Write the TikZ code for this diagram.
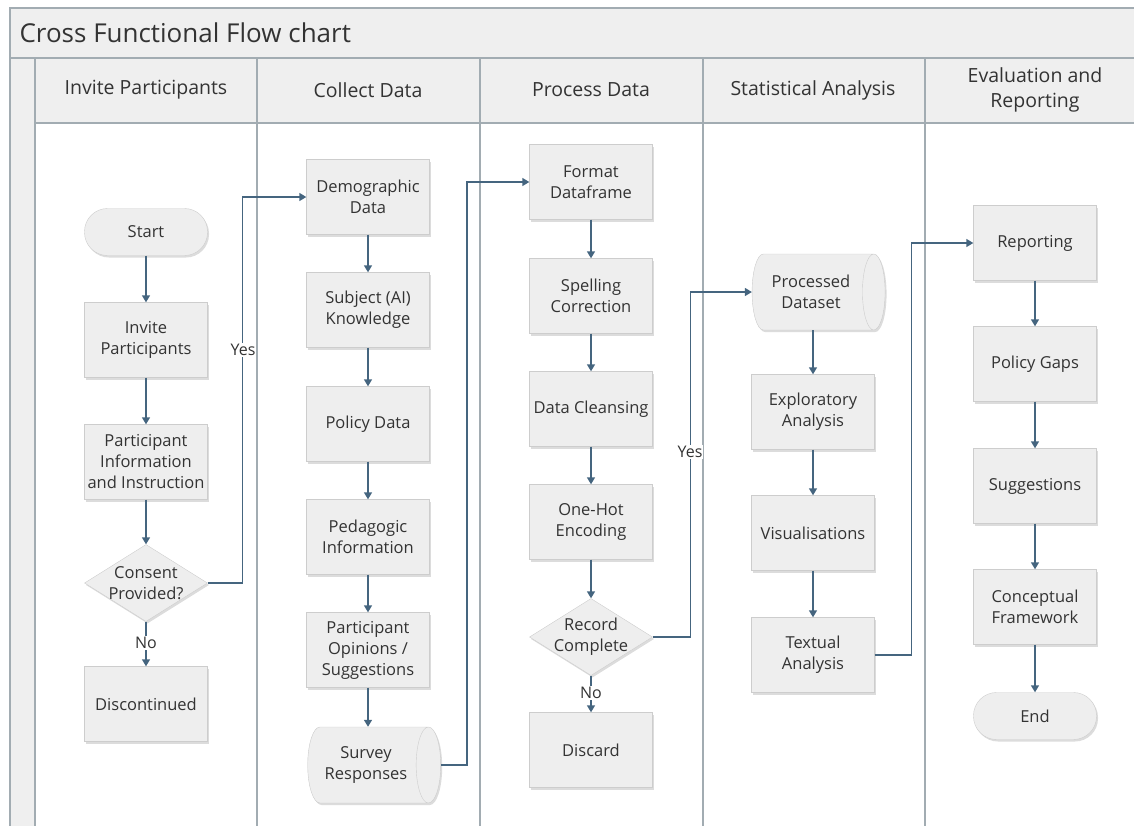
\documentclass[tikz,border=0pt]{standalone}
\usepackage{fontspec}
\setmainfont{Open Sans}
\usetikzlibrary{shapes.geometric,arrows.meta,shadows}

\begin{document}
\begin{tikzpicture}[x = 1pt, y = -1pt,
  every node/.style = {text = textGray},
  frame/.style = {draw = frameGray, line width = 1.6pt},
  head/.style = {align = center, font = \fontsize{19.5}{25}\selectfont},
  proc/.style = {draw = boxLine, fill = boxFill, minimum width = 123pt,
    minimum height = 75pt, align = center, inner sep = 2pt,
    font = \fontsize{16.5}{21}\selectfont,
    drop shadow = {shadow xshift = 1.5pt, shadow yshift = -2pt, opacity = 0.3, fill = black!45}},
  term/.style = {proc, rounded corners = 23pt, minimum height = 47pt},
  decision/.style = {proc, diamond, minimum height = 77pt, inner sep = 0pt},
  store/.style = {proc, cylinder, shape aspect = 0.6, minimum width = 76pt,
    minimum height = 133pt, cylinder uses custom fill, cylinder body fill = boxFill,
    cylinder end fill = boxFill!55!white},
  flow/.style = {draw = arrowBlue, line width = 1.4pt,
    -{Triangle[width = 8pt, length = 7pt]}},
  lbl/.style = {fill = white, inner sep = 1pt, font = \fontsize{16}{18}\selectfont}]

  \definecolor{frameGray}{HTML}{A2ACB2}
  \definecolor{headFill}{HTML}{EFEFEF}
  \definecolor{boxFill}{HTML}{EEEEEE}
  \definecolor{boxLine}{HTML}{CDCDCD}
  \definecolor{arrowBlue}{HTML}{45657F}
  \definecolor{textGray}{HTML}{333333}

  \useasboundingbox (0,0) rectangle (1134,825);

  % frame of the chart
  \fill[headFill] (10,8) rectangle (1140,123);
  \fill[headFill] (10,123) rectangle (35,830);
  \draw[frame] (10,830) -- (10,8) -- (1140,8);
  \draw[frame] (10,58) -- (1140,58);
  \draw[frame] (35,123) -- (1140,123);
  \foreach \x in {35,257,480,703,925}
    \draw[frame] (\x,58) -- (\x,830);

  \node[anchor = west, font = \fontsize{26}{30}\selectfont] (title) at (16,33) {Cross Functional Flow chart};

  \node[head] (hInvite) at (146,90) {Invite Participants};
  \node[head] (hCollect) at (368,90) {Collect Data};
  \node[head] (hProcess) at (591,90) {Process Data};
  \node[head] (hStats) at (813,90) {Statistical Analysis};
  \node[head] (hEval) at (1035,90) {Evaluation and\\Reporting};

  % invite participants
  \node[term] (start) at (146,232) {Start};
  \node[proc] (invite) at (146,340) {Invite\\Participants};
  \node[proc] (info) at (146,462) {Participant\\Information\\and Instruction};
  \node[decision, label = {[align = center, font = \fontsize{16.5}{21}\selectfont]center:Consent\\Provided?}] (consent) at (146,583) {};
  \node[proc] (disc) at (146,704) {Discontinued};

  % collect data
  \node[proc] (demo) at (368,197) {Demographic\\Data};
  \node[proc] (subj) at (368,310) {Subject (AI)\\Knowledge};
  \node[proc] (policy) at (368,424) {Policy Data};
  \node[proc] (peda) at (368,537) {Pedagogic\\Information};
  \node[proc] (opin) at (368,650) {Participant\\Opinions /\\Suggestions};
  \node[store] (survey) at (366,765) {Survey\\Responses};

  % process data
  \node[proc] (fmt) at (591,182) {Format\\Dataframe};
  \node[proc] (spell) at (591,296) {Spelling\\Correction};
  \node[proc] (clean) at (591,409) {Data Cleansing};
  \node[proc] (onehot) at (591,522) {One-Hot\\Encoding};
  \node[decision, label = {[align = center, font = \fontsize{16.5}{21}\selectfont]center:Record\\Complete}] (record) at (591,637) {};
  \node[proc] (discard) at (591,750) {Discard};

  % statistical analysis
  \node[store] (procd) at (811,292) {Processed\\Dataset};
  \node[proc] (explor) at (813,412) {Exploratory\\Analysis};
  \node[proc] (visual) at (813,533) {Visualisations};
  \node[proc] (textual) at (813,655) {Textual\\Analysis};

  % evaluation and reporting
  \node[proc] (report) at (1035,243) {Reporting};
  \node[proc] (gaps) at (1035,364) {Policy Gaps};
  \node[proc] (sugg) at (1035,486) {Suggestions};
  \node[proc] (concept) at (1035,607) {Conceptual\\Framework};
  \node[term] (end) at (1035,716) {End};

  % connectors
  \draw[flow] (start) -- (invite);
  \draw[flow] (invite) -- (info);
  \draw[flow] (info) -- (consent);
  \draw[flow] (consent) -- (disc);
  \draw[flow] (consent.east) -- ++(35,0) |- (demo.west);

  \draw[flow] (demo) -- (subj);
  \draw[flow] (subj) -- (policy);
  \draw[flow] (policy) -- (peda);
  \draw[flow] (peda) -- (opin);
  \draw[flow] (opin.south) -- (opin.south |- survey.north);
  \draw[flow] (survey.east) -- ++(26,0) |- (fmt.west);

  \draw[flow] (fmt) -- (spell);
  \draw[flow] (spell) -- (clean);
  \draw[flow] (clean) -- (onehot);
  \draw[flow] (onehot) -- (record);
  \draw[flow] (record) -- (discard);
  \draw[flow] (record.east) -- ++(38,0) |- (procd.west);

  \draw[flow] (explor.north |- procd.south) -- (explor.north);
  \draw[flow] (explor) -- (visual);
  \draw[flow] (visual) -- (textual);
  \draw[flow] (textual.east) -- ++(37,0) |- (report.west);

  \draw[flow] (report) -- (gaps);
  \draw[flow] (gaps) -- (sugg);
  \draw[flow] (sugg) -- (concept);
  \draw[flow] (concept) -- (end);

  \node[lbl] (yesA) at (243,350) {Yes};
  \node[lbl] (yesB) at (690,452) {Yes};
  \node[lbl] (noA) at (146,643) {No};
  \node[lbl] (noB) at (591,693) {No};
\end{tikzpicture}
\end{document}
